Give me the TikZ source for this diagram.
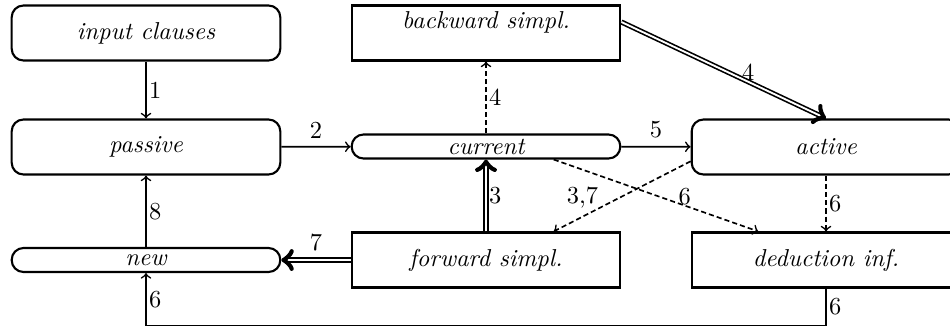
\documentclass[tikz,border=0pt]{standalone}
\usetikzlibrary{calc}
\begin{document}
\begin{tikzpicture}[x=0.4255pt,y=-0.4255pt,
  every node/.style={font=\fontsize{10.4}{12}\selectfont},
  box/.style={draw,line width=0.9pt,rectangle,minimum width=114.3pt,minimum height=23.4pt,inner sep=1pt,font=\fontsize{10.4}{12}\selectfont\itshape},
  rbox/.style={box,rounded corners=5pt},
  tbox/.style={box,rounded corners=5pt,minimum height=10.2pt},
  arr/.style={line width=0.7pt,->},
  darr/.style={line width=0.7pt,double,double distance=0.8pt,->},
  dsh/.style={line width=0.7pt,->,dash pattern=on 2.2pt off 1.3pt},
  lab/.style={inner sep=1pt}]
\useasboundingbox (0,0) rectangle (950,329);
\node[rbox] (input) at (146,33) {input clauses};
\node[rbox] (passive) at (146,147) {passive};
\node[box,text height=6.9pt,text depth=11.1pt] (backward) at (486,33) {backward simpl.};
\node[tbox] (current) at (486,146.5) {current};
\node[rbox] (active) at (826,147) {active};
\node[tbox] (new) at (146,260) {new};
\node[box] (forward) at (486,260) {forward simpl.};
\node[box] (deduction) at (826,260) {deduction inf.};

\draw[arr] (input) -- node[right,lab]{1} (passive);
\draw[arr] (passive) -- node[above]{2} (current);
\draw[dsh] (current) -- node[right,lab]{4} (backward);
\draw[darr] ($(backward.east)+(0,-11)$) -- node[pos=0.62,above,inner sep=0pt]{4} (active.north);
\draw[arr] (current) -- node[above]{5} (active);
\draw[darr] (forward) -- node[right,lab]{3} (current);
\draw[dsh] ($(active.west)!0.5!(active.south west)$) -- node[pos=0.79,above]{3,7} ($(forward.north)!0.5!(forward.north east)$);
\draw[dsh] ($(current.south)!0.5!(current.south east)$) -- node[pos=0.64,above,inner sep=0pt]{6} ($(deduction.north)!0.5!(deduction.north west)$);
\draw[dsh] (active) -- node[right,lab]{6} (deduction);
\draw[darr] (forward) -- node[above]{7} (new);
\draw[arr] (new) -- node[right,lab]{8} (passive);
\draw[arr] (deduction.south) -- node[right,lab]{6} ++(0,37) -| node[pos=0.75,right,lab]{6} (new.south);
\end{tikzpicture}
\end{document}
